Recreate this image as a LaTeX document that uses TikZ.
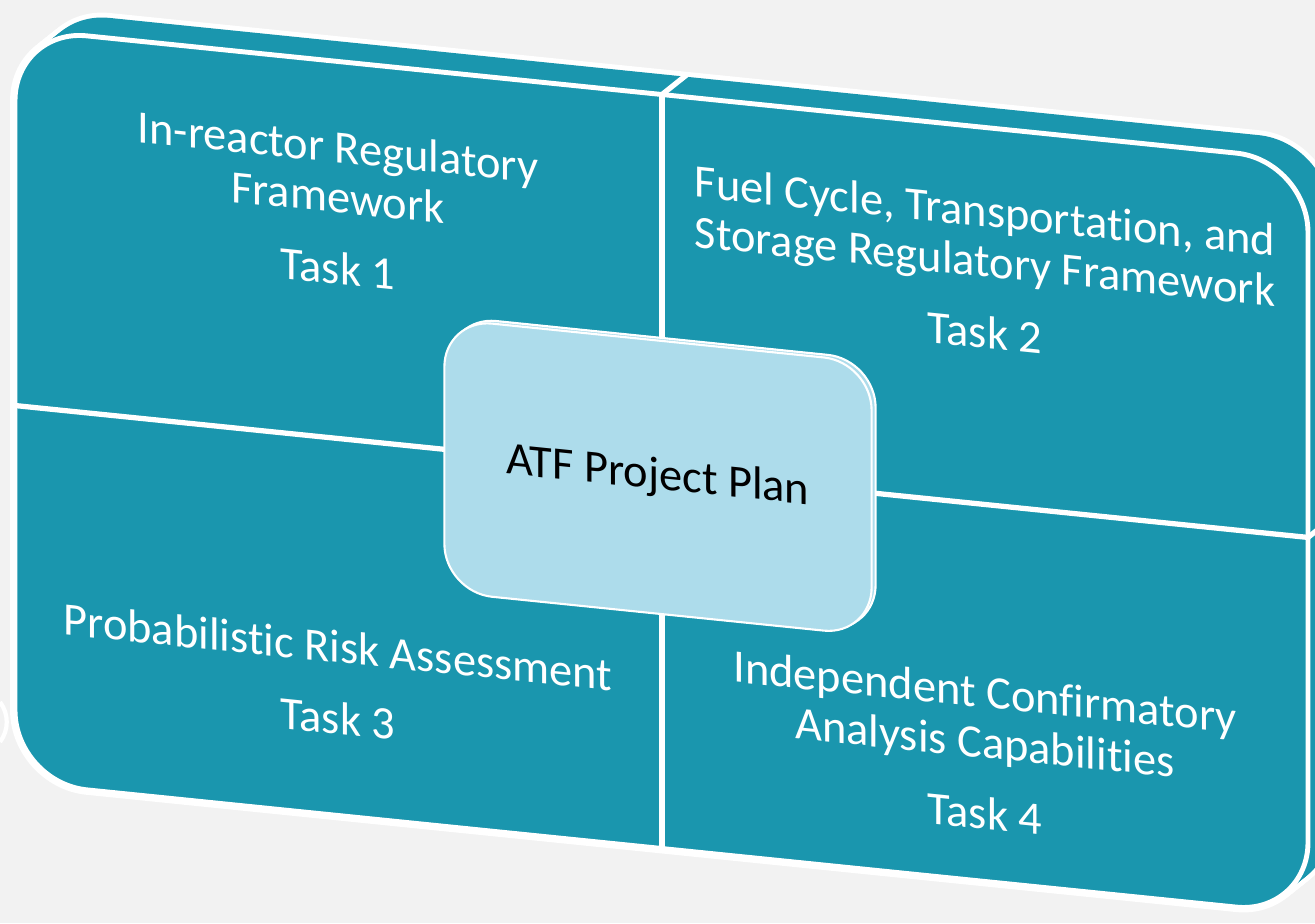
\documentclass[tikz,border=0pt]{standalone}
\usepackage{fontspec}
\setmainfont{Carlito}[Ligatures=NoCommon]
\definecolor{tealbox}{HTML}{1A96AE}
\definecolor{planblue}{HTML}{ADDCEB}
\definecolor{paper}{HTML}{F2F2F2}

\begin{document}
\begin{tikzpicture}[
  x=0.01cm, y=0.01cm,
  slab/.style={rounded corners=7.2mm},
  rim/.style={draw=white,line width=1.4pt},
  divider/.style={white,line width=1.5pt},
  task/.style={align=center,text=white,font=\fontsize{13.2}{14.3}\selectfont},
  plan/.style={draw=white,line width=0.6pt,fill=planblue,rounded corners=4.8mm,
    minimum width=4.27cm,minimum height=2.73cm,font=\fontsize{13.2}{15}\selectfont}
]
  \fill[paper] (0,0) rectangle (1315,923);
  \clip (0,0) rectangle (1315,923);
  \draw[white,line width=1.2pt] (0,221) .. controls (9,209) and (9,193) .. (0,181);
  \begin{scope}[yslant=-0.102,transform shape]
    \coordinate (n) at (662,896);
    \coordinate (s) at (662,142);
    \coordinate (w) at (15,519);
    \coordinate (e) at (1308,519);
    \coordinate (depth) at (25,22.5);
    % slab thickness
    \foreach \t in {0,0.1,...,1}
      \draw[slab,white,line width=2.8pt,shift={(25*\t,22.5*\t)}] (15,142) rectangle (1308,896);
    \foreach \t in {0,0.1,...,1}
      \fill[slab,tealbox,shift={(25*\t,22.5*\t)}] (15,142) rectangle (1308,896);
    \draw[divider] (n) -- ++(depth);
    \draw[divider] (e) -- ++(depth);
    % front face
    \draw[slab,rim,fill=tealbox] (15,142) rectangle (1308,896);
    \draw[divider] (n) -- (s);
    \draw[divider] (w) -- (e);
    \node[task] (task1) at (338,750) {In-reactor Regulatory\\Framework\\[6pt]Task 1};
    \node[task] (task2) at (985,752) {Fuel Cycle, Transportation, and\\Storage Regulatory Framework\\[6pt]Task 2};
    \node[task] (task3) at (338,275) {Probabilistic Risk Assessment\\[6pt]Task 3};
    \node[task] (task4) at (985,271) {Independent Confirmatory\\Analysis Capabilities\\[6pt]Task 4};
    \node[plan,shift={(4,3)}] (planback) at (658,513) {};
    \node[plan] (plan) at (658,513) {ATF Project Plan};
  \end{scope}
\end{tikzpicture}
\end{document}
